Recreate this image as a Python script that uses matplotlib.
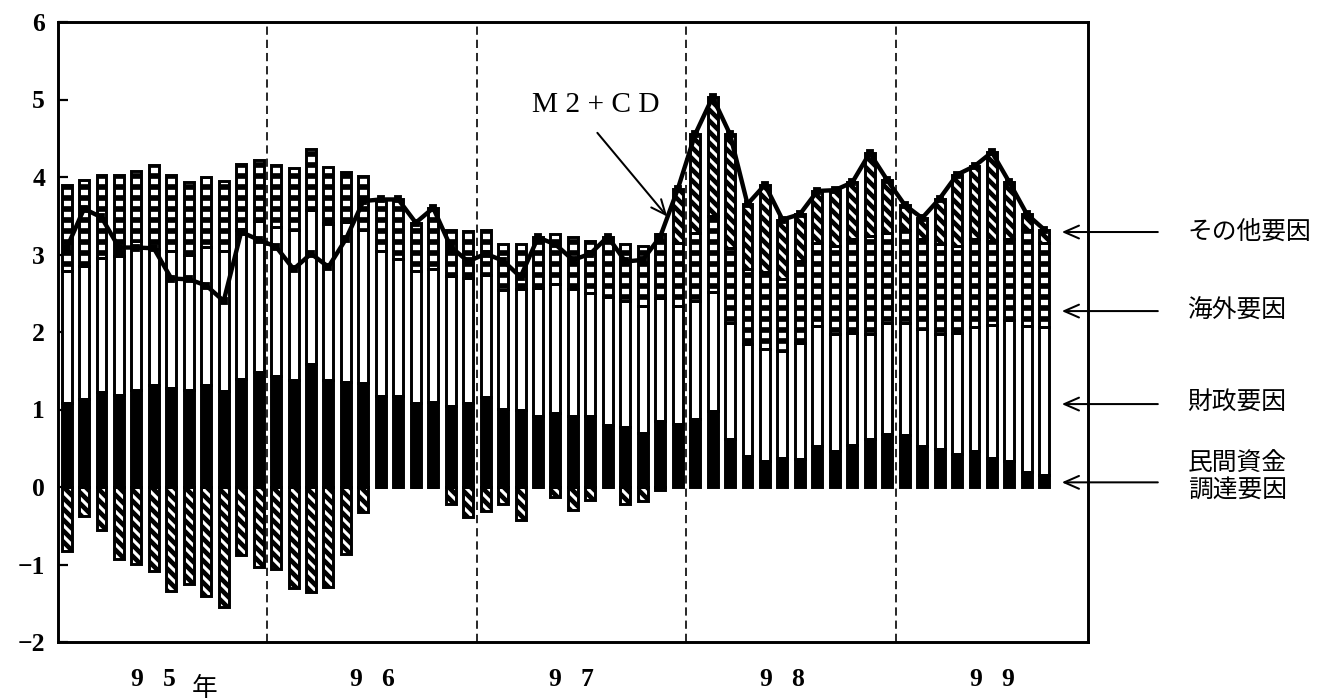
import matplotlib
matplotlib.use('Agg')
import matplotlib.pyplot as plt
import numpy as np

plt.rcParams['hatch.linewidth'] = 2.2

# M2+CD growth contributions, monthly Jan 95 - Sep 99
private = [1.09, 1.13, 1.23, 1.19, 1.25, 1.31, 1.28, 1.25, 1.31, 1.24, 1.40, 1.48,
           1.43, 1.38, 1.59, 1.38, 1.36, 1.34, 1.18, 1.18, 1.08, 1.10, 1.05, 1.08,
           1.16, 1.01, 0.99, 0.91, 0.95, 0.91, 0.91, 0.80, 0.78, 0.70, 0.85, 0.81,
           0.88, 0.98, 0.62, 0.40, 0.34, 0.38, 0.36, 0.53, 0.47, 0.54, 0.62, 0.68,
           0.67, 0.53, 0.49, 0.43, 0.47, 0.38, 0.34, 0.19, 0.15]
fiscal = [1.70, 1.72, 1.72, 1.79, 1.92, 1.76, 1.77, 1.75, 1.79, 1.80, 1.92, 1.95,
          1.92, 1.94, 1.99, 2.02, 2.06, 1.97, 1.87, 1.76, 1.71, 1.71, 1.67, 1.62,
          1.57, 1.53, 1.56, 1.66, 1.67, 1.65, 1.59, 1.65, 1.62, 1.64, 1.59, 1.52,
          1.52, 1.53, 1.50, 1.44, 1.44, 1.38, 1.50, 1.55, 1.50, 1.45, 1.35, 1.43,
          1.45, 1.51, 1.49, 1.56, 1.59, 1.71, 1.82, 1.89, 1.92]
overseas = [1.11, 1.11, 1.08, 1.04, 0.91, 1.09, 0.98, 0.93, 0.90, 0.91, 0.85, 0.79,
            0.81, 0.79, 0.78, 0.73, 0.64, 0.70, 0.66, 0.77, 0.62, 0.79, 0.60, 0.60,
            0.59, 0.60, 0.59, 0.65, 0.64, 0.67, 0.68, 0.78, 0.73, 0.77, 0.83, 0.82,
            0.88, 0.99, 0.97, 0.97, 0.99, 0.92, 1.06, 1.07, 1.14, 1.21, 1.27, 1.17,
            1.20, 1.16, 1.15, 1.12, 1.14, 1.08, 1.04, 1.24, 1.08]
other = [-0.82, -0.37, -0.55, -0.93, -0.99, -1.08, -1.34, -1.25, -1.40, -1.55, -0.88, -1.03,
         -1.06, -1.30, -1.35, -1.29, -0.86, -0.32, 0.0, 0.0, 0.0, 0.0, -0.22, -0.39,
         -0.31, -0.22, -0.43, 0.0, -0.13, -0.30, -0.17, 0.0, -0.22, -0.18, -0.04, 0.69,
         1.27, 1.53, 1.46, 0.84, 1.13, 0.77, 0.60, 0.67, 0.72, 0.73, 1.07, 0.68,
         0.32, 0.27, 0.59, 0.92, 0.94, 1.15, 0.73, 0.20, 0.17]

year_labels = ['9 5', '9 6', '9 7', '9 8', '9 9']
factor_labels = ['その他要因', '海外要因', '財政要因', '民間資金\n調達要因']

private = np.array(private)
fiscal = np.array(fiscal)
overseas = np.array(overseas)
other = np.array(other)
x = np.arange(len(private))

base2 = private + fiscal
base3 = base2 + overseas
other_bottom = np.where(other > 0, base3, 0.0)
m2cd = base3 + other

fig = plt.figure(figsize=(10, 700 / 132), dpi=132)
ax = fig.add_axes([58 / 1320, 58 / 700, 1030 / 1320, 620 / 700])

w = 0.57


def layer(bottom, height, face, hatch=None, hlw=None):
    bars = ax.bar(x, height, w, bottom=bottom, color=face,
                  edgecolor='white' if hatch else face, linewidth=0,
                  hatch=hatch, zorder=2)
    if hlw is not None:
        for p in bars:
            if hasattr(p, 'set_hatch_linewidth'):
                p.set_hatch_linewidth(hlw)
    ax.bar(x, height, w, bottom=bottom, facecolor='none',
           edgecolor='black', linewidth=1.6, zorder=3)


layer(0, private, 'black')
layer(private, fiscal, 'white')
layer(base2, overseas, 'black', '--', 2.9)
layer(other_bottom, other, 'black', '\\\\\\\\', 1.7)

ax.plot(x, m2cd, color='black', lw=2.4, marker='s', ms=3.5, zorder=5)

for b in [11.5, 23.5, 35.5, 47.5]:
    ax.axvline(b, color='black', lw=0.9, ls=(0, (5, 3)), zorder=1)

ax.set_xlim(-0.49, 58.5)
ax.set_ylim(-2, 6)
ax.set_yticks(range(-2, 7))
ax.set_xticks([])
ax.tick_params(axis='y', direction='in', length=5.5, width=1.2, pad=7)
for lab in ax.get_yticklabels():
    lab.set_fontfamily('Liberation Serif')
    lab.set_fontweight('bold')
    lab.set_fontsize(14)
for s in ax.spines.values():
    s.set_linewidth(1.6)

# year labels under the axis
xt = ax.get_xaxis_transform()
year_pos = [5.0, 17.5, 28.9, 41.0, 53.0]
for p, t in zip(year_pos, year_labels):
    ax.text(p, -0.06, t.replace(' ', '   '), transform=xt, ha='center', va='center',
            fontfamily='Liberation Serif', fontweight='bold', fontsize=14)
ax.text(7.9, -0.075, '年', transform=xt, ha='center', va='center',
        fontfamily=['Noto Sans CJK JP'], fontsize=14)

# M2+CD callout
ax.text(30.3, 4.93, 'M 2 + C D', ha='center', va='center',
        fontfamily='Liberation Serif', fontsize=16)
ax.annotate('', xy=(34.4, 3.49), xytext=(30.4, 4.57),
            arrowprops=dict(arrowstyle='->,head_length=0.8,head_width=0.35',
                            lw=1.1, color='black', shrinkA=0, shrinkB=0))

# factor labels on the right
arrow_y = [3.29, 2.27, 1.07, 0.06]
text_y = [3.29, 2.27, 1.09, 0.14]
for ay, ty, t in zip(arrow_y, text_y, factor_labels):
    ax.annotate('', xy=(57.0, ay), xytext=(62.5, ay), annotation_clip=False,
                arrowprops=dict(arrowstyle='->,head_length=0.8,head_width=0.35',
                                lw=1.1, color='black', shrinkA=0, shrinkB=0))
    ax.text(64.2, ty, t, ha='left', va='center', clip_on=False,
            fontfamily=['Noto Sans CJK JP'], fontsize=13.5, linespacing=1.05)

fig.savefig('out.png', dpi=132)
